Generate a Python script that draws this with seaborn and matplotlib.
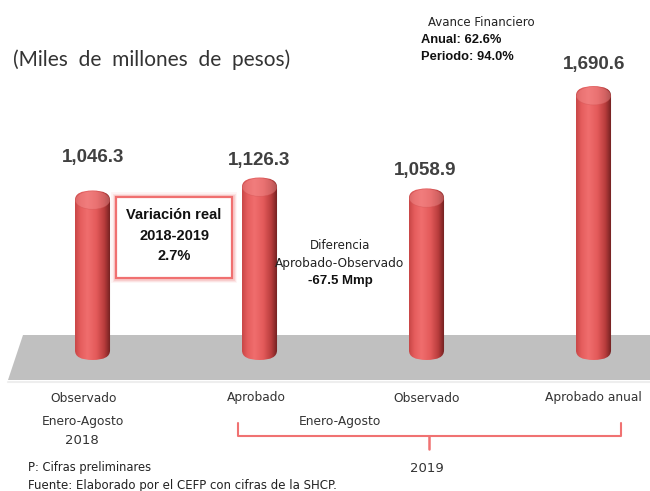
import numpy as np
import pandas as pd
import matplotlib
matplotlib.use("Agg")
import matplotlib.pyplot as plt
import seaborn as sns
from matplotlib.patches import FancyBboxPatch, Polygon, Rectangle, Ellipse
from matplotlib.colors import LinearSegmentedColormap

# ---- data ----
keys = ["Observado 2018", "Aprobado 2019", "Observado 2019", "Aprobado anual 2019"]
tick_labels = ["Observado", "Aprobado", "Observado", "Aprobado anual"]
values = [1046.3, 1126.3, 1058.9, 1690.6]
value_labels = ["1,046.3", "1,126.3", "1,058.9", "1,690.6"]

W, H = 650, 491
sns.set_theme(style="white")
plt.rcParams['font.family'] = ['DejaVu Sans']
NARROW = ['Liberation Sans Narrow', 'Liberation Sans', 'DejaVu Sans']
TITLEF = ['Lato', 'DejaVu Sans']

fig = plt.figure(figsize=(W / 100, H / 100), dpi=100)
fig.patch.set_facecolor("white")
ax = fig.add_axes([0, 0, 1, 1])

df = pd.DataFrame({"key": keys, "val": values})
sns.barplot(data=df, x="key", y="val", color="#e35b5b", width=0.21,
            saturation=1, ax=ax, zorder=3)

# layout mapping (pixel geometry)
x0_px, xunit = 92.5, 167.0
base_px, yscale = 360.0, 0.162
ax.set_xlim(-x0_px / xunit, (W - x0_px) / xunit)
ax.set_ylim(-(H - base_px) / yscale, base_px / yscale)
ax.axis("off")


def fx(px):
    return px / W


def fy(py):
    return 1 - py / H


# floor
floor = Polygon([(fx(23), fy(335)), (fx(650), fy(335)), (fx(650), fy(380)), (fx(8), fy(380))],
                closed=True, transform=fig.transFigure, facecolor="#c0c0c0",
                edgecolor="none", zorder=1)
ax.add_patch(floor)
ax.plot([fx(8), fx(650)], [fy(381.5), fy(381.5)], transform=fig.transFigure,
        color="#eeeeee", lw=1.5, zorder=1)

# cylinder look
cmap = LinearSegmentedColormap.from_list("cyl", [
    (0.0, "#c84646"), (0.15, "#e55d5d"), (0.35, "#f06e6e"),
    (0.6, "#e35a5a"), (0.82, "#b83c3c"), (1.0, "#6a1e1e")])
grad = cmap(np.linspace(0, 1, 200))[None, :, :]
aspect = (xunit / yscale) * 0.55
for p in list(ax.patches):
    if not isinstance(p, Rectangle):
        continue
    x, y = p.get_x(), p.get_y()
    w, h = p.get_width(), p.get_height()
    if h <= 0:
        continue
    p.set_visible(False)
    r = w / 2
    shape = FancyBboxPatch((x, y), w, h, boxstyle=f"round,pad=0,rounding_size={r}",
                           mutation_aspect=aspect, facecolor="none",
                           edgecolor="none", zorder=3)
    ax.add_patch(shape)
    im = ax.imshow(grad, extent=(x, x + w, y, y + h), aspect="auto",
                   interpolation="bicubic", zorder=3)
    im.set_clip_path(shape)
    ry = r * aspect
    cap = Ellipse((x + w / 2, y + h - ry * 1.0), w * 0.98, 2 * ry * 0.95,
                  facecolor="#f39090", edgecolor="#cf5050", lw=0.5, alpha=0.45, zorder=4)
    ax.add_patch(cap)
    cap.set_clip_path(shape)

ax.set_xlim(-x0_px / xunit, (W - x0_px) / xunit)
ax.set_ylim(-(H - base_px) / yscale, base_px / yscale)

# value labels
label_py = [157, 161, 170, 65]
label_px = [93, 259, 425, 594]
for lab, px, py in zip(value_labels, label_px, label_py):
    fig.text(fx(px), fy(py), lab, ha="center", va="center",
             fontsize=13.5, fontweight="bold", color="#404040", family=NARROW)

# category labels
for i, lab in enumerate(tick_labels):
    cx = [84, 256, 427, 593][i]
    fig.text(fx(cx), fy(398), lab, ha="center", va="center", fontsize=8.8, color="#333333")

fig.text(fx(83), fy(422), "Enero-Agosto", ha="center", va="center", fontsize=8.8, color="#333333")
fig.text(fx(82), fy(441), "2018", ha="center", va="center", fontsize=9.5, color="#333333")
fig.text(fx(340), fy(422), "Enero-Agosto", ha="center", va="center", fontsize=8.8, color="#333333")
fig.text(fx(427), fy(469), "2019", ha="center", va="center", fontsize=9.5, color="#333333")

# bracket
bc = "#f07272"
ax.plot([fx(238), fx(238), fx(621), fx(621)], [fy(423), fy(436), fy(436), fy(423)],
        transform=fig.transFigure, color=bc, lw=1.5, zorder=5)
ax.plot([fx(429), fx(429)], [fy(436), fy(449)], transform=fig.transFigure,
        color=bc, lw=1.8, zorder=5)

# title
fig.text(fx(13), fy(60), "(Miles  de  millones  de  pesos)", ha="left", va="center",
         fontsize=15, color="#333333", family=TITLEF)

# avance financiero
fig.text(fx(428), fy(22), "Avance Financiero", ha="left", va="center", fontsize=8.5, color="#222222")
fig.text(fx(421), fy(40), "Anual: 62.6%", ha="left", va="center", fontsize=9.3,
         fontweight="bold", color="#111111", family=NARROW)
fig.text(fx(421), fy(57), "Periodo: 94.0%", ha="left", va="center", fontsize=9.3,
         fontweight="bold", color="#111111", family=NARROW)

# variation box with glow
bx0, bx1, by0, by1 = 116, 232, 197, 278
for lw, a in [(7, 0.08), (5, 0.12), (3.5, 0.2)]:
    ax.add_patch(Rectangle((fx(bx0), fy(by1)), fx(bx1) - fx(bx0), fy(by0) - fy(by1),
                           transform=fig.transFigure, facecolor="none",
                           edgecolor="#f07070", lw=lw, alpha=a, zorder=5))
ax.add_patch(Rectangle((fx(bx0), fy(by1)), fx(bx1) - fx(bx0), fy(by0) - fy(by1),
                       transform=fig.transFigure, facecolor="white",
                       edgecolor="#f07070", lw=1.6, zorder=6))
for txt, py in [("Variación real", 215), ("2018-2019", 236), ("2.7%", 256)]:
    fig.text(fx(174), fy(py), txt, ha="center", va="center", fontsize=10.5,
             fontweight="bold", color="#111111", family=NARROW, zorder=7)

# diferencia
fig.text(fx(340), fy(245), "Diferencia", ha="center", va="center", fontsize=8.5, color="#222222")
fig.text(fx(340), fy(263), "Aprobado-Observado", ha="center", va="center", fontsize=8.7, color="#222222")
fig.text(fx(340), fy(281), "-67.5 Mmp", ha="center", va="center", fontsize=9.5,
         fontweight="bold", color="#111111", family=NARROW)

# notes
fig.text(fx(28), fy(467), "P: Cifras preliminares", ha="left", va="center", fontsize=8.3, color="#222222")
fig.text(fx(28), fy(485), "Fuente: Elaborado por el CEFP con cifras de la SHCP.", ha="left",
         va="center", fontsize=8.5, color="#222222")

fig.savefig("out.png", dpi=100, facecolor="white")
